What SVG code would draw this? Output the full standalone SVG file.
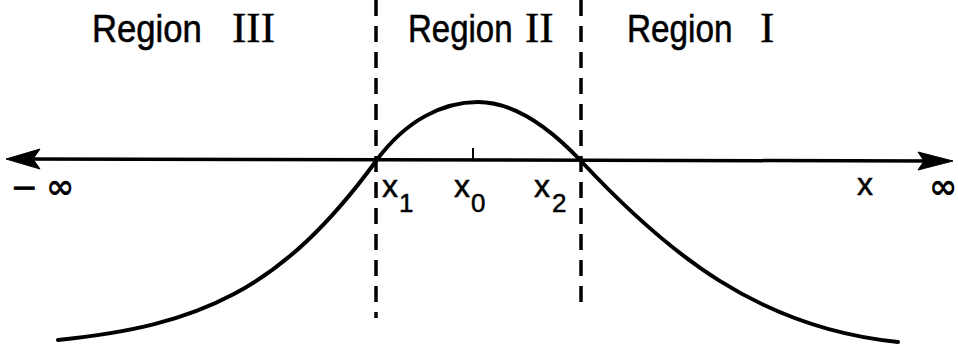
<svg xmlns="http://www.w3.org/2000/svg" width="958" height="349" viewBox="0 0 958 349">
<style>
.bg{fill:#fff}
.axis{stroke:#000;stroke-width:3.5;fill:none}
.head{fill:#000;stroke:#000;stroke-width:1;stroke-linejoin:round}
.curve{stroke:#000;stroke-width:4;fill:none;stroke-linejoin:round;stroke-linecap:round}
.dash{stroke:#000;stroke-width:3.5;fill:none;stroke-dasharray:16 10}
.tick{stroke:#000;stroke-width:2}
.lbl{font-family:"Liberation Sans",Arial,sans-serif;fill:#000;stroke:#000;stroke-width:0.5}
.rom{font-family:"Liberation Serif","Times New Roman",serif;fill:#000;stroke:#000;stroke-width:0.4}
.inf{font-family:"DejaVu Sans",sans-serif;font-weight:bold;fill:#000}
</style>
<rect class="bg" x="0" y="0" width="958" height="349"/>
<g id="connectors">
  <line class="axis" x1="20" y1="159" x2="935" y2="161"/>
  <polygon class="head" points="6,159 40,149 33,159 40,169"/>
  <polygon class="head" points="953,161 918,152 924,161 918,170"/>
  <line class="dash" x1="376" y1="0" x2="376" y2="318"/>
  <line class="dash" x1="581" y1="0" x2="581" y2="308"/>
  <line class="tick" x1="473" y1="148" x2="473" y2="160"/>
  <path class="curve" d="M58,340 C198,326 281,291.2 376,161 C406,120 443,102 478,102 C513,102 548,126 581,161 C666,252 758,328 898,342"/>
</g>
<g id="region3">
  <text class="lbl" font-size="34" transform="translate(92,42) scale(1.02,1.15)">Region</text>
  <text class="rom" x="232" y="42" font-size="43">III</text>
</g>
<g id="region2">
  <text class="lbl" font-size="34" transform="translate(408,42) scale(0.97,1.15)">Region</text>
  <text class="rom" x="525" y="42" font-size="43">II</text>
</g>
<g id="region1">
  <text class="lbl" font-size="34" transform="translate(627,42) scale(0.98,1.15)">Region</text>
  <text class="rom" x="760" y="42" font-size="43">I</text>
</g>
<g id="neg-inf">
  <text class="lbl" x="12" y="202" font-size="42">−</text>
  <text class="inf" x="46" y="198" font-size="34">∞</text>
</g>
<g id="x1">
  <text class="lbl" x="382" y="197" font-size="32">x</text>
  <text class="lbl" x="399" y="212" font-size="26">1</text>
</g>
<g id="x0">
  <text class="lbl" x="454" y="197" font-size="32">x</text>
  <text class="lbl" x="471" y="212" font-size="26">0</text>
</g>
<g id="x2">
  <text class="lbl" x="534" y="197" font-size="32">x</text>
  <text class="lbl" x="552" y="212" font-size="26">2</text>
</g>
<g id="x">
  <text class="lbl" x="857" y="195" font-size="32">x</text>
</g>
<g id="pos-inf">
  <text class="inf" x="929" y="198" font-size="34">∞</text>
</g>
</svg>
